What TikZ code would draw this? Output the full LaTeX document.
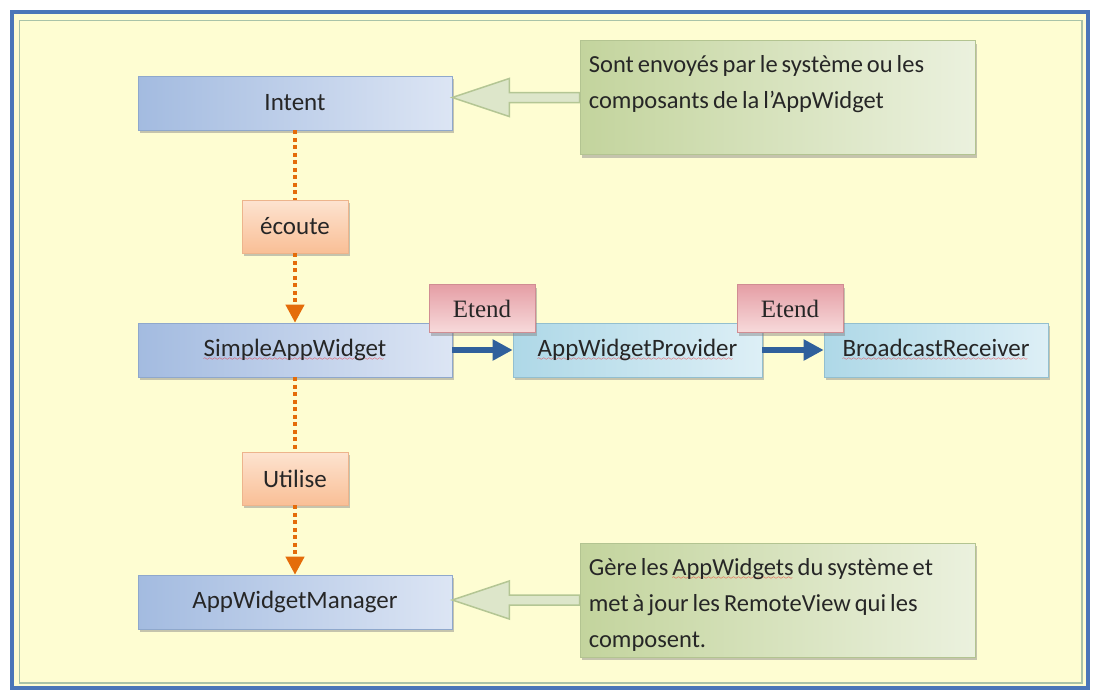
\documentclass[tikz,border=0pt]{standalone}
\usepackage{fontspec}
\setmainfont{Carlito}
\newfontfamily\etendfont{Liberation Serif}
\usepackage{xcolor}
\usetikzlibrary{arrows.meta,shadows,calc}

\definecolor{bgyellow}{HTML}{FEFDD2}
\definecolor{frameblue}{HTML}{4A76B8}
\definecolor{framegreen}{HTML}{A9C3A8}
\definecolor{txtgray}{HTML}{262626}
\definecolor{blueL}{HTML}{A3BBE0}
\definecolor{blueR}{HTML}{DCE5F4}
\definecolor{blueedge}{HTML}{8FA8CC}
\definecolor{cyanL}{HTML}{AED8E7}
\definecolor{cyanR}{HTML}{DDEFF6}
\definecolor{cyanedge}{HTML}{93BFCF}
\definecolor{orgT}{HTML}{FDE3D0}
\definecolor{orgB}{HTML}{F9BF96}
\definecolor{orgedge}{HTML}{EDB48C}
\definecolor{orgline}{HTML}{E46C0A}
\definecolor{redT}{HTML}{E59EA5}
\definecolor{redB}{HTML}{F7DADB}
\definecolor{rededge}{HTML}{D08D93}
\definecolor{greenL}{HTML}{C3D49D}
\definecolor{greenR}{HTML}{EBF1DE}
\definecolor{greenedge}{HTML}{B3C491}
\definecolor{extblue}{HTML}{30609C}
\definecolor{hollowfill}{HTML}{DDE6CA}
\definecolor{hollowedge}{HTML}{B4C694}

\newcommand{\boxfont}{\fontsize{25}{29}\selectfont}
\newcommand{\notefont}{\fontsize{24.5}{36}\selectfont\spaceskip=4pt plus 1pt minus 1pt\relax}
\font\wavefont=lasy6
% red spell-check wave under a word
\newcommand{\spell}[1]{\setbox0\hbox{#1}%
  \rlap{\textcolor{red}{\lower4pt\hbox to\wd0{\leaders\hbox{\wavefont\char58}\hfill}}}\box0\relax}

\begin{document}
\begin{tikzpicture}[x=1pt, y=-1pt,
  blk/.style={
    rectangle, draw=#1, line width=0.6pt, minimum height=54pt,
    inner sep=0pt, font=\boxfont, text=txtgray,
    drop shadow={shadow xshift=1.5pt, shadow yshift=-3pt, opacity=0.45}
  },
  bluebox/.style={
    blk=blueedge, left color=blueL, right color=blueR, minimum width=314pt
  },
  cyanbox/.style={
    blk=cyanedge, left color=cyanL, right color=cyanR
  },
  orgbox/.style={
    blk=orgedge, top color=orgT, bottom color=orgB,
    minimum width=106pt, minimum height=53pt
  },
  etendbox/.style={
    blk=rededge, top color=redT, bottom color=redB,
    minimum width=106pt, minimum height=48pt,
    font=\etendfont\boxfont
  },
  notebox/.style={
    blk=greenedge, left color=greenL, right color=greenR,
    minimum width=395pt, minimum height=114pt
  },
  notetxt/.style={
    anchor=north west, inner sep=0pt, align=left,
    font=\notefont, text=txtgray
  },
  dotarr/.style={
    draw=orgline, line width=4pt, dash pattern=on 4pt off 3.5pt
  },
  dothead/.style={
    dotarr, -{Triangle[length=18pt,width=18pt]}
  },
  extarr/.style={
    draw=extblue, line width=6pt, -{Triangle[length=20pt,width=20pt]}
  },
  hollow/.style={
    draw=hollowedge, fill=hollowfill, line width=1.5pt, line join=miter
  }
]

% Frame
\fill[white] (0,0) rectangle (1093,691);
\draw[frameblue, line width=4pt, fill=bgyellow] (12,12) rectangle (1088,688);
\draw[framegreen, line width=1.5pt] (19.5,20.5) rectangle (1082,683);

% Classes
\node[bluebox] (intent) at (295,103) {Intent};
\node[bluebox] (simple) at (295,350) {\spell{SimpleAppWidget}};
\node[bluebox] (manager) at (295,602) {AppWidgetManager};
\node[cyanbox, minimum width=249pt] (provider) at (637.5,350) {\spell{AppWidgetProvider}};
\node[cyanbox, minimum width=224pt] (receiver) at (936,350) {\spell{BroadcastReceiver}};

% Relations
\node[orgbox] (ecoute) at (295,226.5) {écoute};
\node[orgbox] (utilise) at (295,478.5) {Utilise};

\draw[dotarr] (intent.south) -- (ecoute.north);
\draw[dothead] (ecoute.south) -- (simple.north);
\draw[dotarr] (simple.south) -- (utilise.north);
\draw[dothead] (utilise.south) -- (manager.north);

% Inheritance
\draw[extarr] (simple.east) -- (provider.west);
\draw[extarr] (provider.east) -- (receiver.west);

\node[etendbox] (etenda) at (482,308.5) {Etend};
\node[etendbox] (etendb) at (790,308.5) {Etend};

% Notes
\node[notebox] (notea) at (777.5,97.5) {};
\node[notetxt] (noteatxt) at ($(notea.north west)+(9,15)$)
  {Sont envoyés par le système ou les\\composants de la l’AppWidget};

\node[notebox] (noteb) at (777.5,600) {};
\node[notetxt] (notebtxt) at ($(noteb.north west)+(9,16)$)
  {Gère les \spell{AppWidgets} du système et\\met à jour les RemoteView qui les\\composent.};

% Note arrows
\coordinate (tipa) at (intent.east |- notea.west);
\draw[hollow] (tipa) -- ++(57,-19) -- ++(0,14) -- ($(notea.west)+(0,-5)$)
  -- ($(notea.west)+(0,5)$) -- ($(tipa)+(57,5)$) -- ++(0,14) -- cycle;

\coordinate (tipb) at (manager.east |- noteb.west);
\draw[hollow] (tipb) -- ++(57,-19) -- ++(0,14) -- ($(noteb.west)+(0,-5)$)
  -- ($(noteb.west)+(0,5)$) -- ($(tipb)+(57,5)$) -- ++(0,14) -- cycle;

\end{tikzpicture}
\end{document}
